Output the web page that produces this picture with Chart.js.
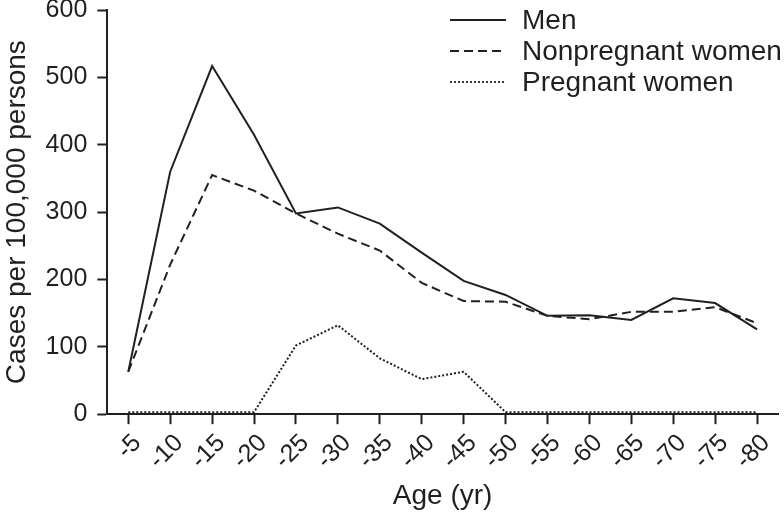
<!DOCTYPE html>
<html>
<head>
<meta charset="utf-8">
<script src="https://cdn.jsdelivr.net/npm/chart.js@4/dist/chart.umd.min.js"></script>
<style>
    html, body { margin: 0; padding: 0; background: #fff; }
    #wrap { width: 784px; height: 515px; }
</style>
</head>
<body>
<div id="wrap"><canvas id="chart"></canvas></div>
<script>
//
// Data
//

const AGE_LABELS = ['-5', '-10', '-15', '-20', '-25', '-30', '-35', '-40',
    '-45', '-50', '-55', '-60', '-65', '-70', '-75', '-80']

const MEN = [63, 360, 517, 415, 298, 307, 283, 240, 198, 177, 146, 147, 140, 172, 165, 126]
const NONPREGNANT = [63, 222, 355, 332, 298, 268, 243, 195, 168, 167, 146, 141, 152, 152, 159, 135]
const PREGNANT = [3, 3, 3, 3, 102, 132, 83, 52, 63, 3, 3, 3, 3, 3, 3, 3]

const Y_TICKS = [0, 100, 200, 300, 400, 500, 600]

const INK = '#231f20'
const FONT = '"Liberation Sans", Arial, sans-serif'

// legend drawn inside the plot, top right
const inner_legend = {
    id: 'inner_legend',
    afterDraw (chart) {
        const ctx = chart.ctx
        const x0 = 450
        const len = 56
        ctx.save()
        ctx.font = `28px ${FONT}`
        ctx.textBaseline = 'middle'
        chart.data.datasets.forEach((ds, i) => {
            const y = 20 + i * 31
            ctx.strokeStyle = INK
            ctx.lineWidth = 1.8
            ctx.setLineDash(ds.borderDash || [])
            ctx.beginPath()
            ctx.moveTo(x0, y)
            ctx.lineTo(x0 + len, y)
            ctx.stroke()
            ctx.fillStyle = INK
            ctx.fillText(ds.label, x0 + 72, y + 1)
        })
        ctx.restore()
    },
}

const ctx = document.getElementById('chart').getContext('2d')
const chart = new Chart(ctx, {
    type: 'line',
    data: {
        labels: AGE_LABELS,
        datasets: [
            {
                label: 'Men',
                data: MEN,
                borderColor: INK,
                borderWidth: 2,
                borderDash: [],
            },
            {
                label: 'Nonpregnant women',
                data: NONPREGNANT,
                borderColor: INK,
                borderWidth: 2,
                borderDash: [9, 5],
            },
            {
                label: 'Pregnant women',
                data: PREGNANT,
                borderColor: INK,
                borderWidth: 2,
                borderDash: [2, 2],
            },
        ],
    },
    options: {
        responsive: true,
        maintainAspectRatio: false,
        animation: false,
        elements: {
            point: { radius: 0 },
            line: { tension: 0, borderCapStyle: 'butt' },
        },
        layout: { padding: { top: 0, right: 6, left: 0, bottom: 0 } },
        plugins: {
            legend: { display: false },
            tooltip: { enabled: false },
        },
        scales: {
            x: {
                offset: true,
                border: { display: true, color: INK, width: 2 },
                grid: {
                    drawOnChartArea: false,
                    drawTicks: true,
                    tickLength: 10,
                    tickWidth: 2,
                    tickColor: INK,
                },
                ticks: {
                    color: INK,
                    font: { family: FONT, size: 25, lineHeight: 1.0 },
                    minRotation: 45,
                    maxRotation: 45,
                    autoSkip: false,
                    padding: 6,
                    labelOffset: 9,
                },
                title: {
                    display: true,
                    text: 'Age (yr)',
                    color: INK,
                    font: { family: FONT, size: 28 },
                    padding: { top: 0, bottom: 2 },
                },
            },
            y: {
                min: 0,
                max: 600,
                afterBuildTicks (scale) {
                    scale.ticks = Y_TICKS.map((v) => ({ value: v }))
                },
                border: { display: true, color: INK, width: 2 },
                grid: {
                    drawOnChartArea: false,
                    drawTicks: true,
                    tickLength: 10,
                    tickWidth: 2,
                    tickColor: INK,
                },
                ticks: {
                    color: INK,
                    font: { family: FONT, size: 25, lineHeight: 0.01 },
                    padding: 10,
                },
                title: {
                    display: true,
                    text: 'Cases per 100,000 persons',
                    color: INK,
                    font: { family: FONT, size: 28 },
                    padding: { top: 0, bottom: 2 },
                },
            },
        },
    },
    plugins: [ inner_legend ],
})
</script>
</body>
</html>
